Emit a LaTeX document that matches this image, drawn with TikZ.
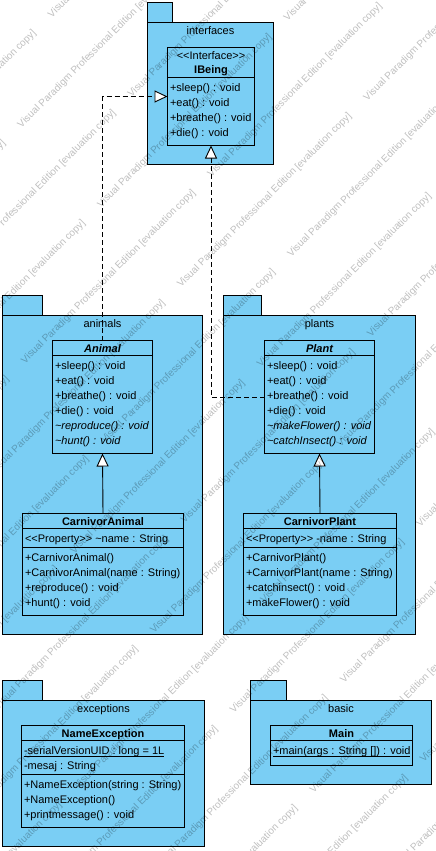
\documentclass[tikz,border=0pt]{standalone}
\usepackage{fontspec}
\setmainfont{Liberation Sans}
\usetikzlibrary{arrows.meta}
\definecolor{pkgblue}{RGB}{122,206,244}

\begin{document}
\begin{tikzpicture}[
    x=1pt, y=-1pt,
    every node/.style={font=\fontsize{11}{15}\selectfont, inner sep=0pt, outer sep=0pt},
    pkg/.style={draw, fill=pkgblue, line width=0.9pt, anchor=north west},
    cls/.style={draw, fill=pkgblue, line width=0.9pt, anchor=north west},
    pkgname/.style={anchor=base},
    clsname/.style={anchor=base, font=\fontsize{11}{15}\selectfont\bfseries},
    absname/.style={anchor=base, font=\fontsize{11}{15}\selectfont\bfseries\itshape},
    member/.style={anchor=base west},
    absmember/.style={anchor=base west, font=\fontsize{11}{15}\selectfont\itshape},
    divider/.style={line width=0.9pt},
    gen/.style={line width=0.9pt, -{Triangle[length=13pt, width=12pt, fill=white]}},
    real/.style={gen, dash pattern=on 5pt off 3pt},
    watermark/.style={rotate=45, anchor=base west, text=black, text opacity=0.25, font=\fontsize{10}{12}\selectfont}
  ]
  \useasboundingbox (0,0) rectangle (436,851);

  % interfaces
  \node[pkg, minimum width=25pt, minimum height=20pt] (interfacesTab) at (147.5,2.5) {};
  \node[pkg, minimum width=126pt, minimum height=141.5pt] (interfaces) at (147.5,22.5) {};
  \node[pkgname] (interfacesName) at ([yshift=-12.5pt]interfaces.north) {interfaces};
  \node[cls, minimum width=87pt, minimum height=98pt] (IBeing) at (167.5,47.5) {};
  \draw[divider] ([yshift=-30pt]IBeing.north west) -- ([yshift=-30pt]IBeing.north east);
  \node[anchor=base] (ibeingStereo) at ([yshift=-12pt]IBeing.north) {<{}<Interface>{}>};
  \node[clsname] (ibeingName) at ([yshift=-26.5pt]IBeing.north) {IBeing};
  \node[member] (ibeingOp1) at ([xshift=2.5pt,yshift=-44pt]IBeing.north west) {+sleep() : void};
  \node[member] (ibeingOp2) at ([xshift=2.5pt,yshift=-59pt]IBeing.north west) {+eat() : void};
  \node[member] (ibeingOp3) at ([xshift=2.5pt,yshift=-74pt]IBeing.north west) {+breathe() : void};
  \node[member] (ibeingOp4) at ([xshift=2.5pt,yshift=-89pt]IBeing.north west) {+die() : void};

  % animals
  \node[pkg, minimum width=40pt, minimum height=19.5pt] (animalsTab) at (2.5,295.5) {};
  \node[pkg, minimum width=200pt, minimum height=319.5pt] (animals) at (2.5,315) {};
  \node[pkgname] (animalsName) at ([yshift=-12pt]animals.north) {animals};
  \node[cls, minimum width=100pt, minimum height=113pt] (Animal) at (52.5,340.5) {};
  \draw[divider] ([yshift=-15pt]Animal.north west) -- ([yshift=-15pt]Animal.north east);
  \node[absname] (animalName) at ([yshift=-12pt]Animal.north) {Animal};
  \node[member] (animalOp1) at ([xshift=2.5pt,yshift=-29pt]Animal.north west) {+sleep() : void};
  \node[member] (animalOp2) at ([xshift=2.5pt,yshift=-44pt]Animal.north west) {+eat() : void};
  \node[member] (animalOp3) at ([xshift=2.5pt,yshift=-59pt]Animal.north west) {+breathe() : void};
  \node[member] (animalOp4) at ([xshift=2.5pt,yshift=-74pt]Animal.north west) {+die() : void};
  \node[absmember] (animalOp5) at ([xshift=2.5pt,yshift=-89pt]Animal.north west) {\textasciitilde reproduce() : void};
  \node[absmember] (animalOp6) at ([xshift=2.5pt,yshift=-104pt]Animal.north west) {\textasciitilde hunt() : void};
  \node[cls, minimum width=161pt, minimum height=102pt] (CarnivorAnimal) at (22.5,513.5) {};
  \draw[divider] ([yshift=-15pt]CarnivorAnimal.north west) -- ([yshift=-15pt]CarnivorAnimal.north east);
  \draw[divider] ([yshift=-34pt]CarnivorAnimal.north west) -- ([yshift=-34pt]CarnivorAnimal.north east);
  \node[clsname] (carnivorAnimalName) at ([yshift=-12pt]CarnivorAnimal.north) {CarnivorAnimal};
  \node[member] (carnivorAnimalAttr) at ([xshift=2.5pt,yshift=-29pt]CarnivorAnimal.north west) {<{}<Property>{}> \textasciitilde name : String};
  \node[member] (carnivorAnimalOp1) at ([xshift=2.5pt,yshift=-48pt]CarnivorAnimal.north west) {+CarnivorAnimal()};
  \node[member] (carnivorAnimalOp2) at ([xshift=2.5pt,yshift=-63pt]CarnivorAnimal.north west) {+CarnivorAnimal(name : String)};
  \node[member] (carnivorAnimalOp3) at ([xshift=2.5pt,yshift=-78pt]CarnivorAnimal.north west) {+reproduce() : void};
  \node[member] (carnivorAnimalOp4) at ([xshift=2.5pt,yshift=-93pt]CarnivorAnimal.north west) {+hunt() : void};

  % plants
  \node[pkg, minimum width=38pt, minimum height=19.5pt] (plantsTab) at (223.5,295.5) {};
  \node[pkg, minimum width=192pt, minimum height=319.5pt] (plants) at (223.5,315) {};
  \node[pkgname] (plantsName) at ([yshift=-12pt]plants.north) {plants};
  \node[cls, minimum width=110pt, minimum height=113pt] (Plant) at (264.5,340.5) {};
  \draw[divider] ([yshift=-15pt]Plant.north west) -- ([yshift=-15pt]Plant.north east);
  \node[absname] (plantName) at ([yshift=-12pt]Plant.north) {Plant};
  \node[member] (plantOp1) at ([xshift=2.5pt,yshift=-29pt]Plant.north west) {+sleep() : void};
  \node[member] (plantOp2) at ([xshift=2.5pt,yshift=-44pt]Plant.north west) {+eat() : void};
  \node[member] (plantOp3) at ([xshift=2.5pt,yshift=-59pt]Plant.north west) {+breathe() : void};
  \node[member] (plantOp4) at ([xshift=2.5pt,yshift=-74pt]Plant.north west) {+die() : void};
  \node[absmember] (plantOp5) at ([xshift=2.5pt,yshift=-89pt]Plant.north west) {\textasciitilde makeFlower() : void};
  \node[absmember] (plantOp6) at ([xshift=2.5pt,yshift=-104pt]Plant.north west) {\textasciitilde catchInsect() : void};
  \node[cls, minimum width=153pt, minimum height=102pt] (CarnivorPlant) at (243.5,513.5) {};
  \draw[divider] ([yshift=-15pt]CarnivorPlant.north west) -- ([yshift=-15pt]CarnivorPlant.north east);
  \draw[divider] ([yshift=-34pt]CarnivorPlant.north west) -- ([yshift=-34pt]CarnivorPlant.north east);
  \node[clsname] (carnivorPlantName) at ([yshift=-12pt]CarnivorPlant.north) {CarnivorPlant};
  \node[member] (carnivorPlantAttr) at ([xshift=2.5pt,yshift=-29pt]CarnivorPlant.north west) {<{}<Property>{}> -name : String};
  \node[member] (carnivorPlantOp1) at ([xshift=2.5pt,yshift=-48pt]CarnivorPlant.north west) {+CarnivorPlant()};
  \node[member] (carnivorPlantOp2) at ([xshift=2.5pt,yshift=-63pt]CarnivorPlant.north west) {+CarnivorPlant(name : String)};
  \node[member] (carnivorPlantOp3) at ([xshift=2.5pt,yshift=-78pt]CarnivorPlant.north west) {+catchinsect() : void};
  \node[member] (carnivorPlantOp4) at ([xshift=2.5pt,yshift=-93pt]CarnivorPlant.north west) {+makeFlower() : void};

  % exceptions
  \node[pkg, minimum width=40pt, minimum height=20pt] (exceptionsTab) at (2.5,680.5) {};
  \node[pkg, minimum width=202pt, minimum height=145.5pt] (exceptions) at (2.5,700.5) {};
  \node[pkgname] (exceptionsName) at ([yshift=-12pt]exceptions.north) {exceptions};
  \node[cls, minimum width=163pt, minimum height=102pt] (NameException) at (21.5,725.5) {};
  \draw[divider] ([yshift=-15pt]NameException.north west) -- ([yshift=-15pt]NameException.north east);
  \draw[divider] ([yshift=-49pt]NameException.north west) -- ([yshift=-49pt]NameException.north east);
  \node[clsname] (nameExceptionName) at ([yshift=-12pt]NameException.north) {NameException};
  \node[member] (nameExceptionAttr1) at ([xshift=2.5pt,yshift=-29pt]NameException.north west) {-serialVersionUID : long = 1L};
  \draw[line width=0.8pt] ([yshift=-2pt]nameExceptionAttr1.base west) -- ([yshift=-2pt]nameExceptionAttr1.base east);
  \node[member] (nameExceptionAttr2) at ([xshift=2.5pt,yshift=-44pt]NameException.north west) {-mesaj : String};
  \node[member] (nameExceptionOp1) at ([xshift=2.5pt,yshift=-63pt]NameException.north west) {+NameException(string : String)};
  \node[member] (nameExceptionOp2) at ([xshift=2.5pt,yshift=-78pt]NameException.north west) {+NameException()};
  \node[member] (nameExceptionOp3) at ([xshift=2.5pt,yshift=-93pt]NameException.north west) {+printmessage() : void};

  % basic
  \node[pkg, minimum width=36pt, minimum height=20pt] (basicTab) at (250.5,680.5) {};
  \node[pkg, minimum width=181pt, minimum height=84pt] (basic) at (250.5,700.5) {};
  \node[pkgname] (basicName) at ([yshift=-12pt]basic.north) {basic};
  \node[cls, minimum width=142pt, minimum height=40pt] (Main) at (270.5,725.5) {};
  \draw[divider] ([yshift=-15pt]Main.north west) -- ([yshift=-15pt]Main.north east);
  \node[clsname] (mainName) at ([yshift=-12pt]Main.north) {Main};
  \node[member] (mainOp1) at ([xshift=2.5pt,yshift=-29pt]Main.north west) {+main(args : String []) : void};
  \draw[line width=0.8pt] ([yshift=-2pt]mainOp1.base west) -- ([yshift=-2pt]mainOp1.base east);

  % relations
  \draw[gen] (CarnivorAnimal.north) -- (Animal.south);
  \draw[gen] (CarnivorPlant.north) -- (Plant.south);
  \draw[real] (Animal.north) |- (IBeing.west);
  \draw[real] (Plant.west) -| (IBeing.south);

  % watermark
  \begin{scope}
    \clip (0,0) rectangle (436,851);
    \foreach \n in {-1,...,16}{
      \foreach \k in {-4,...,1}{
        \pgfmathsetmacro\wt{49.5+56.4*\n}
        \pgfmathsetmacro\ws{ifthenelse(mod(\n,2)==0,24,-75.5)+263.7*\k}
        \pgfmathsetmacro\wlo{max(-\wt,\wt-1203.5)}
        \pgfmathsetmacro\whi{min(616.6-\wt,\wt)}
        \pgfmathtruncatemacro\keep{and(\ws<\whi,\ws+244>\wlo)}
        \ifnum\keep=1
          \node[watermark] (wm-\n-\k) at ({(\wt+\ws)*0.7071},{(\wt-\ws)*0.7071}) {Visual Paradigm Professional Edition [evaluation copy]};
        \fi
      }
    }
  \end{scope}
\end{tikzpicture}
\end{document}
